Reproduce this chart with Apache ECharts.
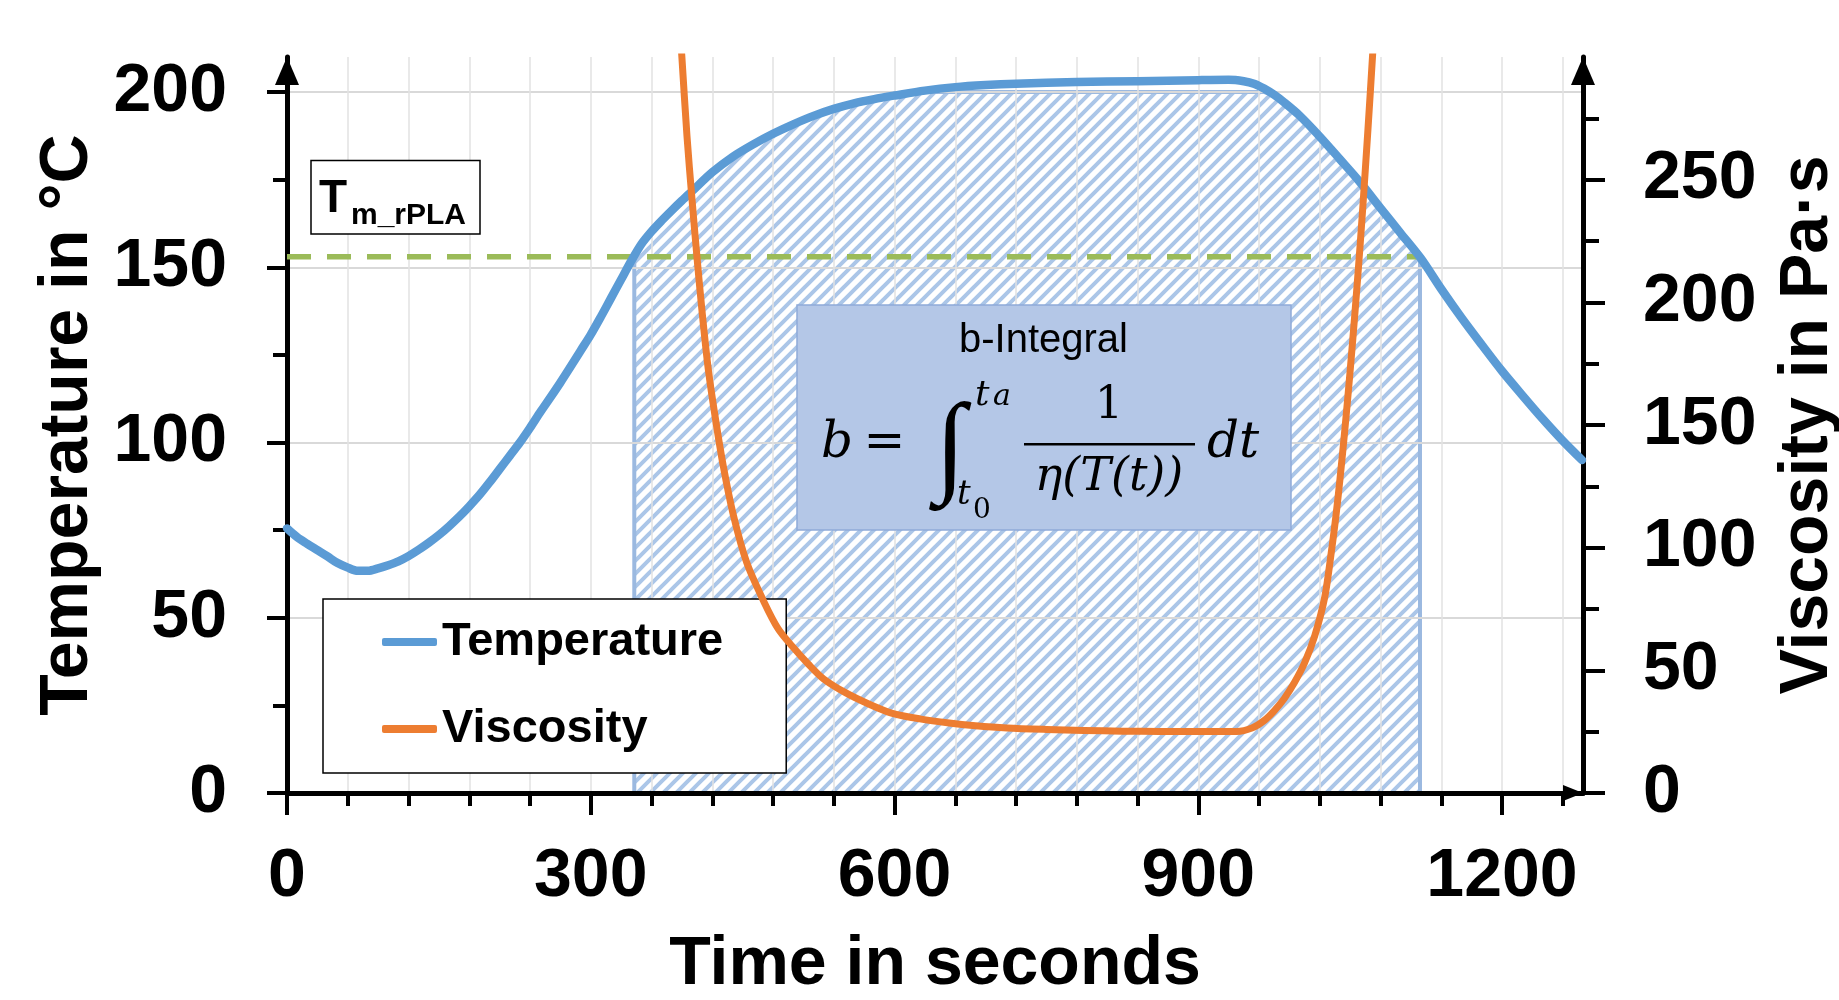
<!DOCTYPE html>
<html><head><meta charset="utf-8">
<script src="https://cdn.jsdelivr.net/npm/echarts@6.0.0/dist/echarts.min.js"></script>
<style>html,body{margin:0;padding:0;background:#fff}#c{width:1839px;height:1000px}</style>
</head><body><div id="c"></div>
<script>
// ---------------- data ----------------
const time = [0,10,20,30,40,50,60,70,80,90,100,110,120,130,140,150,160,170,180,190,200,210,220,230,240,250,260,270,280,290,300,310,320,330,340,350,360,370,380,390,400,420,440,460,480,500,520,540,560,580,600,630,660,690,720,780,840,900,930,945,955,965,975,985,1000,1020,1040,1060,1080,1100,1120,1140,1160,1180,1200,1220,1240,1260,1279];
const temperature = [75.5,73.0,71.1,69.3,67.5,65.6,64.3,63.4,63.4,64.1,65.0,66.1,67.6,69.4,71.4,73.6,76.1,78.8,81.8,85.0,88.6,92.4,96.2,100.0,104.2,108.6,112.8,117.1,121.6,126.2,130.8,135.9,141.2,146.5,151.8,156.6,160.2,163.3,166.2,169.0,171.7,177.1,181.5,185.0,188.1,190.8,193.2,195.2,196.8,198.0,199.0,200.4,201.4,202.0,202.4,202.9,203.1,203.4,203.5,203.1,202.4,201.0,199.2,197.0,193.3,187.3,180.8,174.2,166.9,159.7,152.5,143.8,135.6,127.9,120.4,113.5,106.8,100.5,95.0];
const viscTime = [386,390,395,400,405,410,416,423,431,441,454,471,485,499,515,530,552,575,597,625,654,680,711,750,787,825,862,900,938,953,965,975,985,995,1005,1015,1025,1032,1036,1040,1045,1050,1055,1060,1065,1070,1075];
const viscosity = [326,300,268,242,218,196,173,153,133,113,94,78,67,59.8,52.5,46.5,40.8,36.2,32.6,30.2,28.5,27.4,26.5,25.9,25.5,25.2,25.1,25.1,25.1,26.5,29.5,33.5,38.5,45,53,64,80,100,113,128,149,172,197,224,254,286,320];
const meltTemp = 153;      // T_m_rPLA
const tStart = 343;        // t0
const tEnd = 1119;         // ta
const hatchCap = 200;
const xTicks = [0,300,600,900,1200];
const tempTicks = [0,50,100,150,200];
const viscTicks = [0,50,100,150,200,250];

// ---------------- build series data ----------------
const tempData = time.map((t,i)=>[t, temperature[i]]);
const viscData = viscTime.map((t,i)=>[t, viscosity[i]]);
const hatchData = [[tStart,0],[tStart,meltTemp]];
time.forEach((t,i)=>{ if (t>tStart && t<tEnd) hatchData.push([t, Math.min(temperature[i], hatchCap)]); });
hatchData.push([tEnd,meltTemp],[tEnd,0]);
const meltData = [[0,meltTemp],[tEnd,meltTemp]];

function hatchPattern(){
  const s=13, c=document.createElement('canvas'); c.width=s; c.height=s;
  const g=c.getContext('2d');
  g.strokeStyle='#abc6e8'; g.lineWidth=4;
  g.beginPath();
  for (let k=-2;k<=2;k++){ g.moveTo(k*s/2*2-2, s+2); g.lineTo(k*s/2*2+s+2, -2); }
  g.stroke();
  return c;
}

const FF = '"Liberation Sans", Arial, sans-serif';
const MF = '"DejaVu Serif", serif';
const axisFont = {fontSize:68, fontWeight:'bold', color:'#000', fontFamily:FF};
const plain = v => String(v);

const chart = echarts.init(document.getElementById('c'), null, {renderer:'canvas'});
const txt = (text, x, y, font, align) => ({type:'text', x, y, z:101, silent:true,
  style:{text, font, fill:'#000', align: align||'left', verticalAlign:'middle'}});

chart.setOption({
  animation:false,
  textStyle:{fontFamily:FF},
  grid:{left:287, right:256, top:57, bottom:207, outerBoundsMode:'none', containLabel:false},
  xAxis:{
    type:'value', min:0, max:1280, interval:300,
    name:'Time in seconds', nameLocation:'middle', nameGap:138,
    nameTextStyle:axisFont,
    axisLine:{show:true, lineStyle:{color:'#000', width:5}, symbol:['none','triangle'], symbolSize:[16,20], symbolOffset:[0,-10]},
    axisTick:{show:true, customValues:xTicks, length:22, lineStyle:{color:'#000', width:4}},
    minorTick:{show:true, splitNumber:5, length:13, lineStyle:{color:'#000', width:4}},
    axisLabel:{customValues:xTicks, margin:50, formatter:plain, ...axisFont},
    splitLine:{show:true, lineStyle:{color:'#e2e2e2', width:1.5}},
    minorSplitLine:{show:true, lineStyle:{color:'#e2e2e2', width:1.5}}
  },
  yAxis:[{
    type:'value', min:0, max:210, interval:50, position:'left',
    name:'Temperature in °C', nameLocation:'middle', nameGap:185, nameTextStyle:axisFont,
    axisLine:{show:true, lineStyle:{color:'#000', width:5}, symbol:['none','triangle'], symbolSize:[24,28], symbolOffset:[0,-14]},
    axisTick:{show:true, customValues:tempTicks, length:20, lineStyle:{color:'#000', width:4}},
    minorTick:{show:true, splitNumber:2, length:14, lineStyle:{color:'#000', width:4}},
    axisLabel:{customValues:tempTicks, margin:60, formatter:plain, ...axisFont},
    splitLine:{show:true, lineStyle:{color:'#d9d9d9', width:2}}
  },{
    type:'value', min:0, max:300, interval:50, position:'right',
    name:'Viscosity in Pa·s', nameLocation:'middle', nameGap:191, nameTextStyle:axisFont,
    axisLine:{show:true, lineStyle:{color:'#000', width:5}, symbol:['none','triangle'], symbolSize:[24,28], symbolOffset:[0,-14]},
    axisTick:{show:true, customValues:viscTicks, length:22, lineStyle:{color:'#000', width:4}},
    minorTick:{show:true, splitNumber:2, length:16, lineStyle:{color:'#000', width:4}},
    axisLabel:{customValues:viscTicks, margin:60, formatter:plain, ...axisFont},
    splitLine:{show:false}
  }],
  legend:{
    data:['Temperature','Viscosity'], orient:'vertical', left:323, top:599,
    padding:[18,63,19,59], itemGap:37, itemWidth:55, itemHeight:8, icon:'roundRect',
    backgroundColor:'#fff', borderColor:'#000', borderWidth:1.5,
    textStyle:{fontSize:47, fontWeight:'bold', color:'#000', fontFamily:FF, lineHeight:50}
  },
  series:[
    {name:'b-area', type:'line', data:hatchData, yAxisIndex:0, symbol:'none', silent:true, z:-1,
     lineStyle:{color:'#9bb9e0', width:4}, areaStyle:{color:{image:hatchPattern(), repeat:'repeat'}, opacity:1}},
    {name:'Tm', type:'line', data:meltData, yAxisIndex:0, symbol:'none', silent:true, z:3,
     lineStyle:{color:'#9bbb59', width:5.5, type:[24,16]}},
    {name:'Temperature', type:'line', data:tempData, yAxisIndex:0, symbol:'none', smooth:0.3, z:4,
     color:'#5b9bd5', lineStyle:{color:'#5b9bd5', width:8.5, cap:'round', join:'round'}},
    {name:'Viscosity', type:'line', data:viscData, yAxisIndex:1, symbol:'none', smooth:0.3, z:5, clip:true,
     color:'#ed7d31', lineStyle:{color:'#ed7d31', width:7, cap:'round', join:'round'}}
  ],
  graphic:[
    {type:'rect', z:100, silent:true, shape:{x:311, y:160.5, width:169, height:73.5}, style:{fill:'#fff', stroke:'#000', lineWidth:1.5}},
    txt('T', 319, 199, 'bold 46px '+FF),
    txt('m_rPLA', 351, 216, 'bold 30px '+FF),
    {type:'rect', z:100, silent:true, shape:{x:797, y:305, width:494, height:225}, style:{fill:'#b4c7e7', stroke:'#8fabd9', lineWidth:1.5}},
    txt('b-Integral', 1043.5, 341, '40px '+FF, 'center'),
    txt('b', 821, 444, 'italic 50px '+MF),
    txt('=', 884.5, 444, '50px '+MF, 'center'),
    txt('∫', 950, 452, 'italic 112px "Liberation Serif", "DejaVu Serif", serif', 'center'),
    txt('t', 975, 395.5, 'italic 36px '+MF),
    txt('a', 993, 397.6, 'italic 30px '+MF),
    txt('t', 957, 494.9, 'italic 34px '+MF),
    txt('0', 973, 510.3, '28px '+MF),
    txt('1', 1109, 406.5, '44px '+MF, 'center'),
    {type:'rect', z:101, silent:true, shape:{x:1024, y:443, width:171, height:2.5}, style:{fill:'#000'}},
    txt('η(T(t))', 1109, 478, 'italic 46px '+MF, 'center'),
    txt('dt', 1207, 444.4, 'italic 50px '+MF)
  ]
});
</script></body></html>
